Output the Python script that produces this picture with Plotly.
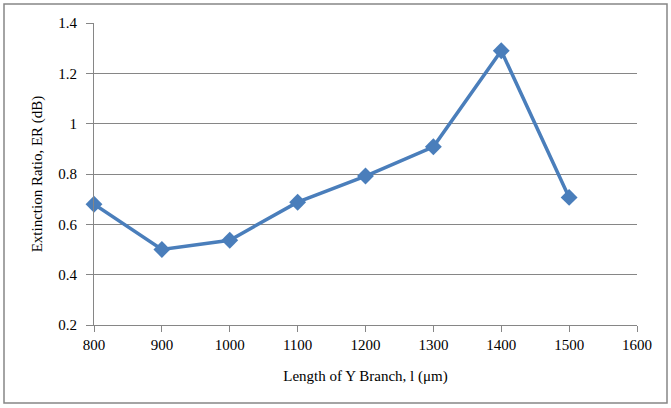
import plotly.graph_objects as go

lengths = [800, 900, 1000, 1100, 1200, 1300, 1400, 1500]
er_db = [0.68, 0.50, 0.537, 0.688, 0.792, 0.908, 1.29, 0.707]

x_ticks = [800, 900, 1000, 1100, 1200, 1300, 1400, 1500, 1600]
y_ticks = [0.2, 0.4, 0.6, 0.8, 1.0, 1.2, 1.4]
y_labels = ["0.2", "0.4", "0.6", "0.8", "1", "1.2", "1.4"]

blue = "#4A7EBB"
font = "Liberation Serif"

fig = go.Figure()
fig.add_trace(go.Scatter(
    x=lengths, y=er_db, mode="lines+markers",
    line=dict(color=blue, width=3.5),
    marker=dict(symbol="diamond", size=13, color=blue),
    cliponaxis=False,
    showlegend=False,
))

W, H = 671, 408
ml, mr, mt, mb = 94, 34, 23, 83
fig.update_layout(
    width=W, height=H,
    margin=dict(l=ml, r=mr, t=mt, b=mb),
    paper_bgcolor="white", plot_bgcolor="white",
    font=dict(family=font, size=15, color="black"),
    xaxis=dict(
        range=[800, 1600], tickvals=x_ticks, ticktext=[str(v) for v in x_ticks],
        showgrid=False, zeroline=False,
        showline=True, linecolor="#868686", linewidth=1,
        ticks="outside", ticklen=6, tickcolor="#868686",
        title=dict(text="Length of Y Branch, l (μm)", font=dict(family=font, size=15), standoff=18),
        tickfont=dict(family=font, size=15),
    ),
    yaxis=dict(
        range=[0.2, 1.4], tickvals=y_ticks, ticktext=y_labels,
        showgrid=True, gridcolor="#868686", gridwidth=1, zeroline=False,
        showline=True, linecolor="#868686", linewidth=1,
        ticks="outside", ticklen=7, tickcolor="#868686",
        ticklabelstandoff=6,
        title=dict(text="Extinction Ratio, ER (dB)", font=dict(family=font, size=15), standoff=12),
        tickfont=dict(family=font, size=15),
    ),
    shapes=[dict(
        type="rect", xref="paper", yref="paper",
        x0=(4 - ml) / (W - ml - mr), x1=(667 - ml) / (W - ml - mr),
        y0=-(403 - (H - mb)) / (H - mt - mb), y1=1 + (mt - 4) / (H - mt - mb),
        line=dict(color="#868686", width=1.5), fillcolor="rgba(0,0,0,0)", layer="below",
    )],
)

fig.write_html("out.html", config={"displayModeBar": False},
               post_script="document.body.style.margin='0';document.body.style.padding='0';")
